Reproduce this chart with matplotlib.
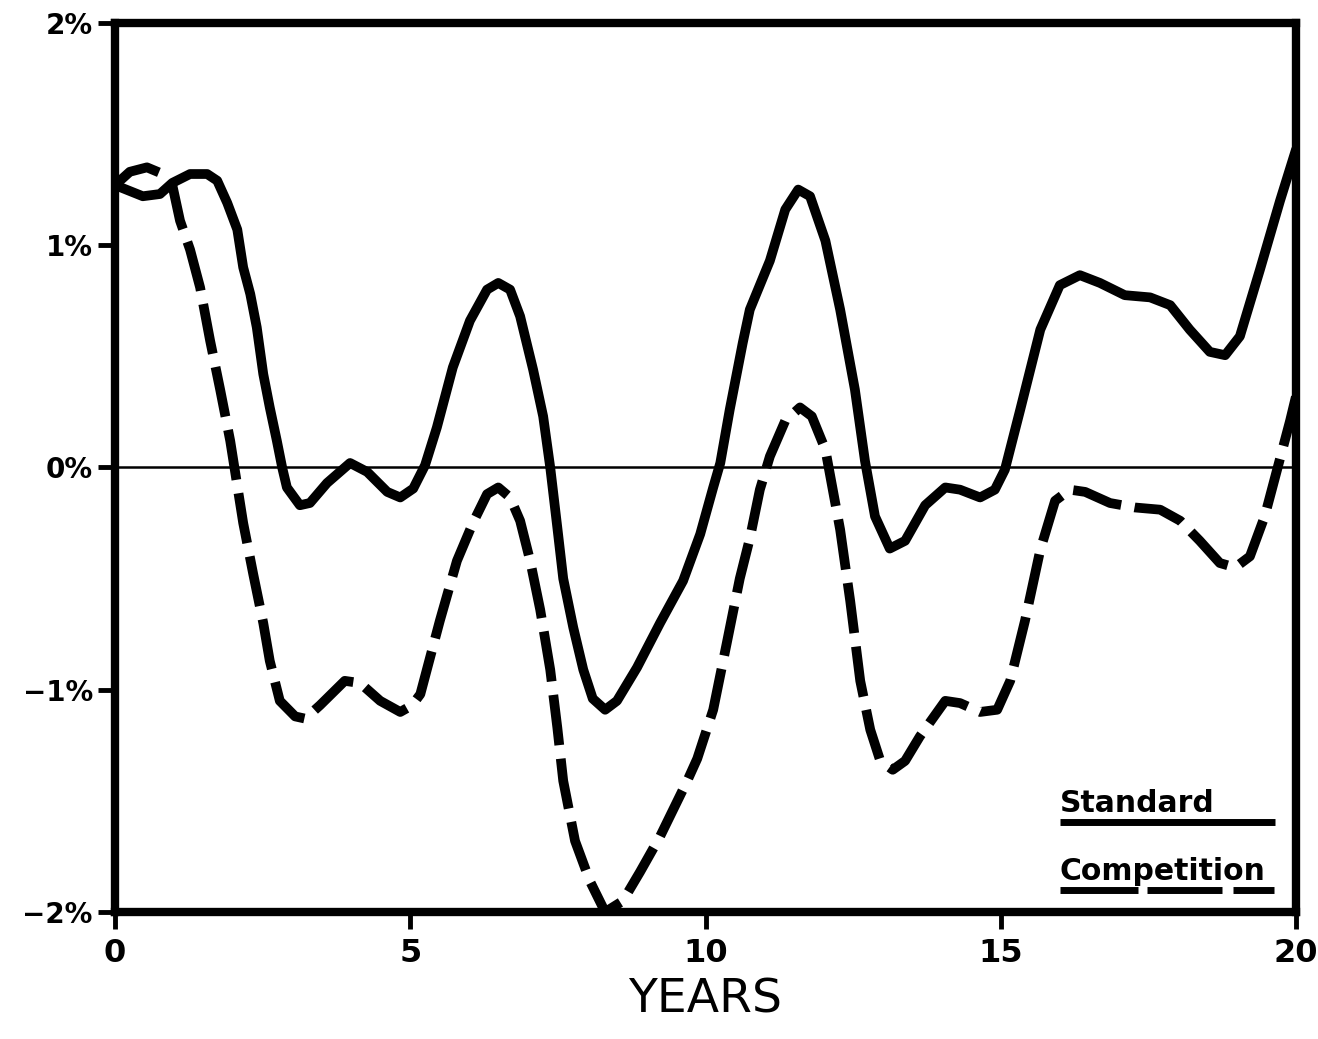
import matplotlib.pyplot as plt

# values (x = years, y = percent)
years_std = [0, 0.47, 0.76, 0.97, 1.27, 1.56, 1.73, 1.90, 2.07, 2.17, 2.29, 2.40, 2.51, 2.62,
             2.74, 2.83, 2.91, 3.13, 3.30, 3.59, 3.98, 4.27, 4.61, 4.83, 5.05, 5.25, 5.45, 5.72,
             6.01, 6.30, 6.49, 6.69, 6.86, 7.08, 7.25, 7.37, 7.49, 7.59, 7.76, 7.93, 8.09, 8.30,
             8.50, 8.84, 9.23, 9.62, 9.91, 10.13, 10.25, 10.41, 10.63, 10.75, 11.09, 11.35, 11.57,
             11.77, 12.03, 12.28, 12.53, 12.70, 12.87, 13.12, 13.38, 13.72, 14.06, 14.31, 14.65,
             14.90, 15.07, 15.33, 15.67, 16.00, 16.34, 16.68, 17.10, 17.53, 17.87, 18.20, 18.54,
             18.80, 19.05, 19.39, 19.73, 20.0]
standard = [1.27, 1.22, 1.23, 1.28, 1.32, 1.32, 1.29, 1.19, 1.07, 0.90, 0.78, 0.63, 0.42, 0.27,
            0.12, 0.0, -0.09, -0.17, -0.16, -0.07, 0.02, -0.02, -0.11, -0.135, -0.095, 0.01, 0.18,
            0.45, 0.66, 0.80, 0.83, 0.80, 0.68, 0.44, 0.23, 0.0, -0.27, -0.50, -0.72, -0.91, -1.04,
            -1.09, -1.05, -0.90, -0.70, -0.51, -0.30, -0.09, 0.02, 0.26, 0.56, 0.71, 0.93, 1.16,
            1.25, 1.22, 1.02, 0.71, 0.35, 0.03, -0.22, -0.365, -0.33, -0.17, -0.09, -0.10, -0.135,
            -0.10, -0.01, 0.26, 0.62, 0.82, 0.865, 0.83, 0.775, 0.765, 0.73, 0.62, 0.52, 0.505,
            0.59, 0.89, 1.20, 1.43]

years_cmp = [0, 0.25, 0.54, 0.81, 0.97, 1.10, 1.27, 1.44, 1.61, 1.78, 1.95, 2.17, 2.34, 2.51,
             2.62, 2.79, 3.05, 3.22, 3.47, 3.89, 4.15, 4.49, 4.83, 5.03, 5.17, 5.50, 5.79, 6.06,
             6.30, 6.49, 6.69, 6.86, 7.03, 7.20, 7.37, 7.49, 7.59, 7.79, 8.04, 8.30, 8.60, 8.89,
             9.23, 9.69, 9.86, 10.13, 10.36, 10.58, 10.75, 10.92, 11.09, 11.35, 11.60, 11.80,
             12.03, 12.28, 12.45, 12.62, 12.79, 12.96, 13.17, 13.38, 13.63, 14.06, 14.31, 14.65,
             14.94, 15.16, 15.41, 15.67, 15.92, 16.17, 16.43, 16.85, 17.27, 17.70, 18.04, 18.37,
             18.71, 18.97, 19.22, 19.47, 19.70, 19.90, 20.0]
competition = [1.27, 1.33, 1.35, 1.32, 1.27, 1.11, 0.98, 0.81, 0.57, 0.35, 0.12, -0.25, -0.48,
               -0.70, -0.87, -1.05, -1.12, -1.13, -1.07, -0.96, -0.97, -1.05, -1.10, -1.07, -1.02,
               -0.69, -0.42, -0.25, -0.12, -0.09, -0.135, -0.24, -0.42, -0.64, -0.91, -1.17, -1.41,
               -1.68, -1.86, -2.0, -1.95, -1.82, -1.66, -1.41, -1.31, -1.09, -0.79, -0.50, -0.32,
               -0.10, 0.05, 0.21, 0.27, 0.23, 0.08, -0.28, -0.60, -0.96, -1.18, -1.32, -1.36, -1.32,
               -1.21, -1.05, -1.06, -1.10, -1.09, -0.96, -0.69, -0.37, -0.15, -0.10, -0.11, -0.16,
               -0.18, -0.19, -0.24, -0.33, -0.43, -0.45, -0.40, -0.22, 0.01, 0.21, 0.32]

x_ticks = [0, 5, 10, 15, 20]
y_ticks = [-2, -1, 0, 1, 2]
y_tick_labels = ["\u22122%", "\u22121%", "0%", "1%", "2%"]

fig = plt.figure(figsize=(13.18, 10.39), dpi=100)
ax = fig.add_axes([0.0873, 0.1222, 0.8960, 0.8558])

ax.axhline(0, color="black", lw=1.8, zorder=1)
ax.plot(years_std, standard, color="black", lw=7, solid_capstyle="round",
        solid_joinstyle="round", zorder=3)
ax.plot(years_cmp, competition, color="black", lw=7, linestyle=(0, (5.2, 1.4)),
        dash_capstyle="butt", dash_joinstyle="round", zorder=3)

ax.set_xlim(0, 20)
ax.set_ylim(-2, 2)
ax.set_xticks(x_ticks)
ax.set_xticklabels([str(t) for t in x_ticks], fontsize=23, fontweight="bold")
ax.set_yticks(y_ticks)
ax.set_yticklabels(y_tick_labels, fontsize=20, fontweight="bold")
ax.tick_params(axis="both", direction="out", length=12, width=3.5, color="black")
ax.tick_params(axis="x", pad=7)
ax.tick_params(axis="y", pad=4)
for sp in ax.spines.values():
    sp.set_linewidth(6)

ax.set_xlabel("YEARS", fontsize=34, labelpad=6)

# legend drawn as underlined text, like the original
ax.text(0.800, 0.112, "Standard", transform=ax.transAxes, fontsize=21.5,
        fontweight="bold", ha="left", va="baseline")
ax.plot([0.800, 0.982], [0.101, 0.101], transform=ax.transAxes, color="black",
        lw=5, solid_capstyle="butt")
ax.text(0.800, 0.036, "Competition", transform=ax.transAxes, fontsize=21.5,
        fontweight="bold", ha="left", va="baseline")
for x0, x1 in [(0.800, 0.866), (0.874, 0.937), (0.947, 0.981)]:
    ax.plot([x0, x1], [0.025, 0.025], transform=ax.transAxes, color="black",
            lw=5, solid_capstyle="butt")

fig.savefig("out.png", dpi=100)
